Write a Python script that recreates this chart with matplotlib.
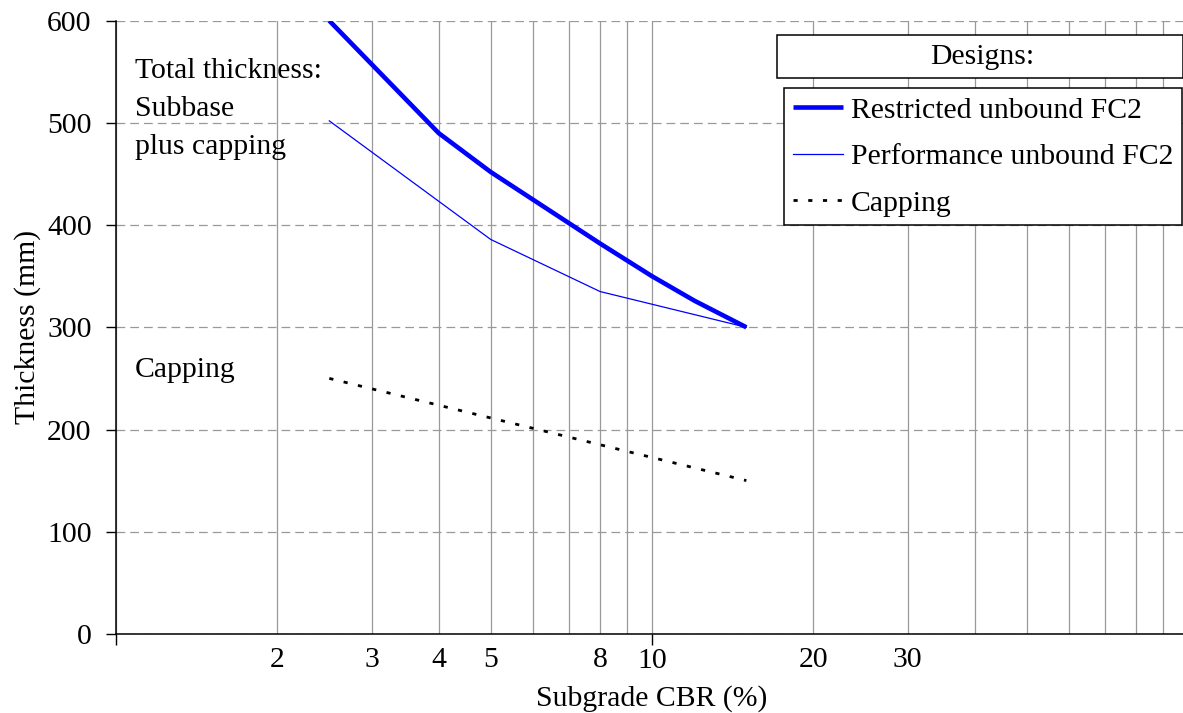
import matplotlib
matplotlib.use("Agg")
import matplotlib.pyplot as plt
from matplotlib.ticker import FixedLocator, FuncFormatter
from matplotlib.patches import Rectangle

plt.rcParams['font.family'] = ['Liberation Serif', 'DejaVu Serif']

# Subgrade CBR (%) and design thickness (mm)
restricted_cbr = [2.5, 4, 5, 8, 10, 12, 15]
restricted_thk = [600, 490, 452, 382, 350, 326, 300]
performance_cbr = [2.5, 5, 8, 15]
performance_thk = [502, 386, 335, 300]
capping_cbr = [2.5, 15]
capping_thk = [250, 150]

grid_cbr = [2, 3, 4, 5, 6, 7, 8, 9, 20, 30, 40, 50, 60, 70, 80, 90]
labelled_cbr = [2, 3, 4, 5, 8, 20, 30]
y_ticks = [0, 100, 200, 300, 400, 500, 600]

fs = 21.4
W, H = 1183, 713
fig = plt.figure(figsize=(W / 100, H / 100), dpi=100)
ax = fig.add_axes([116 / W, 79.1 / H, 1072 / W, 613.2 / H])

ax.plot(restricted_cbr, restricted_thk, color='#0000ff', lw=3.3,
        label='Restricted unbound FC2', solid_capstyle='butt', zorder=3)
ax.plot(performance_cbr, performance_thk, color='#0000ff', lw=0.9,
        label='Performance unbound FC2', zorder=3)
ax.plot(capping_cbr, capping_thk, color='black', lw=2.0,
        linestyle=(0, (1.5, 3.8)), label='Capping', zorder=3)

ax.set_xscale('log')
ax.set_xlim(1, 100)
ax.set_ylim(0, 600)

# decade ticks get marks, in-between values only grid lines and some labels
ax.xaxis.set_major_locator(FixedLocator([1, 10, 100]))
ax.xaxis.set_major_formatter(FuncFormatter(lambda v, p: '10' if abs(v - 10) < 1e-6 else ''))
ax.xaxis.set_minor_locator(FixedLocator(grid_cbr))
ax.xaxis.set_minor_formatter(FuncFormatter(
    lambda v, p: '%d' % round(v) if round(v) in labelled_cbr else ''))
ax.tick_params(axis='x', which='major', length=8, width=1, direction='out',
               pad=2.4, labelsize=fs)
ax.tick_params(axis='x', which='minor', length=0, pad=9.6, labelsize=fs)
ax.set_yticks(y_ticks)
ax.tick_params(axis='y', length=7.5, width=1, direction='out', pad=10, labelsize=fs)

ax.grid(True, axis='x', which='both', color='#999999', lw=0.9, ls='-')
ax.grid(True, axis='y', which='major', color='#999999', lw=0.9, ls=(0, (7, 4)))
ax.set_axisbelow(True)

for side in ['top', 'right']:
    ax.spines[side].set_visible(False)
ax.spines['left'].set_linewidth(1.1)
ax.spines['bottom'].set_linewidth(1.1)

ax.set_xlabel('Subgrade CBR (%)', fontsize=fs, labelpad=8)
ax.set_ylabel('Thickness (mm)', fontsize=fs, labelpad=4)

fig.text(135 / W, 1 - 58 / H, 'Total thickness:\nSubbase\nplus capping',
         fontsize=fs, va='top', ha='left', linespacing=1.6)
fig.text(135 / W, 1 - 370 / H, 'Capping', fontsize=fs, va='center', ha='left')

# "Designs:" heading box above the legend
fig.patches.append(Rectangle((777 / W, 1 - 78 / H), 406 / W, 43 / H,
                             transform=fig.transFigure, fill=True, fc='white',
                             ec='black', lw=1.1, zorder=5))
fig.text(982 / W, 1 - 57 / H, 'Designs:', fontsize=fs, ha='center', va='center', zorder=6)

leg = ax.legend(loc='upper right', bbox_to_anchor=(1182 / W, 1 - 88 / H),
                bbox_transform=fig.transFigure, fontsize=fs, frameon=True,
                fancybox=False, edgecolor='black', framealpha=1,
                handlelength=1.7, handletextpad=0.25, labelspacing=0.66,
                borderpad=0.3, borderaxespad=0)
leg.get_frame().set_linewidth(1.1)

fig.savefig('out.png', dpi=100)
